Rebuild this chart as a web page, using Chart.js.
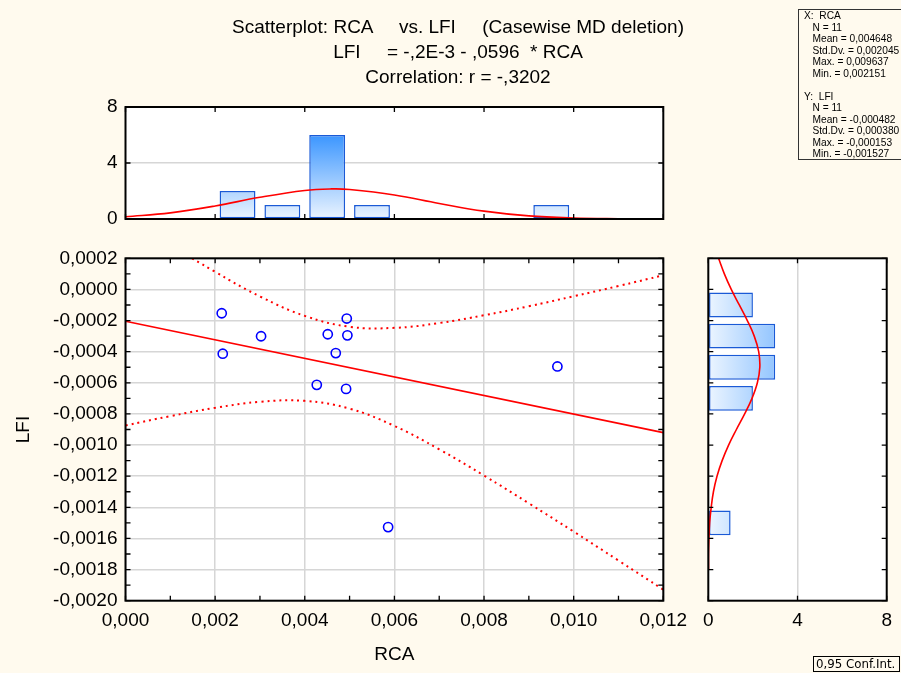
<!DOCTYPE html>
<html>
<head>
<meta charset="utf-8">
<title>Scatterplot: RCA vs. LFI</title>
<script src="https://cdn.jsdelivr.net/npm/chart.js@4.4.1/dist/chart.umd.min.js"></script>
<style>
  html, body { margin: 0; padding: 0; background: #fffaee; }
  #wrap { position: relative; width: 901px; height: 673px; overflow: hidden; background: #fffaee;
          font-family: 'Liberation Sans', Arial, sans-serif; color: #000; }
  #wrap canvas { position: absolute; left: 0; top: 0; }
  .title { position: absolute; left: 158px; top: 14px; width: 600px; text-align: center;
           font-size: 19px; line-height: 25px; white-space: pre; }
  .stats { position: absolute; left: 798px; top: 9px; width: 120px; height: 151px;
           border: 1px solid #333; font-size: 10.2px; line-height: 11.5px; white-space: pre; padding-left: 5px; box-sizing: border-box; }
  .conf { position: absolute; left: 813px; top: 656px; width: 87px; height: 16px; box-sizing: border-box;
          border: 1px solid #000; font-family: 'DejaVu Sans', sans-serif; font-size: 11.8px; line-height: 14px; padding-left: 2px; white-space: pre; }
</style>
</head>
<body>
<div id="wrap">
  <canvas id="histX" width="901" height="673"></canvas>
  <canvas id="scatter" width="901" height="673"></canvas>
  <canvas id="histY" width="901" height="673"></canvas>
  <div class="title">Scatterplot: RCA     vs. LFI     (Casewise MD deletion)
LFI     = -,2E-3 - ,0596  * RCA
Correlation: r = -,3202</div>
  <div class="stats">X:  RCA
   N = 11
   Mean = 0,004648
   Std.Dv. = 0,002045
   Max. = 0,009637
   Min. = 0,002151

Y:  LFI
   N = 11
   Mean = -0,000482
   Std.Dv. = 0,000380
   Max. = -0,000153
   Min. = -0,001527</div>
  <div class="conf">0,95 Conf.Int.</div>
</div>
<script>
// --- dane ---
const rcaValues = [0.002147, 0.00217, 0.003025, 0.004513, 0.004937, 0.004951, 0.004692, 0.004268, 0.004922, 0.009637, 0.00586];
const lfiValues = [-0.000153, -0.000413, -0.000301, -0.000288, -0.000187, -0.000295, -0.000409, -0.000613, -0.000639, -0.000495, -0.001527];

// prosta regresji LFI = -,2E-3 - ,0596 * RCA
const fitX = [0, 0.012];
const fitY = [-0.000205, -0.00092];

// przedział ufności 0,95
const bandX = [0, 0.001, 0.002, 0.003, 0.004, 0.005, 0.006, 0.007, 0.008, 0.009, 0.010, 0.011, 0.012];
const bandUpper = [0.00046, 0.000285, 0.000113, -0.000045, -0.00017, -0.00024, -0.000247, -0.000216, -0.000166, -0.000108, -0.000044, 0.000022, 0.000091];
const bandLower = [-0.000874, -0.000814, -0.000761, -0.000722, -0.000716, -0.000766, -0.000877, -0.001027, -0.001196, -0.001374, -0.001556, -0.001742, -0.001929];

// histogram RCA (górny)
const rcaBins = [0.0025, 0.0035, 0.0045, 0.0055, 0.0095];
const rcaCounts = [2, 1, 6, 1, 1];
const rcaCurveX = [0, 0.001, 0.002, 0.003, 0.004, 0.0046, 0.005, 0.006, 0.007, 0.008, 0.009, 0.010, 0.011, 0.012];
const rcaCurveY = [0.16, 0.44, 0.93, 1.55, 2.04, 2.15, 2.11, 1.72, 1.11, 0.56, 0.22, 0.07, 0.02, 0.0];

// histogram LFI (prawy)
const lfiBins = [-0.0001, -0.0003, -0.0005, -0.0007, -0.0015];
const lfiCounts = [2, 3, 3, 2, 1];
const lfiCurveY = [0.0002, 0.0001, 0, -0.0001, -0.0002, -0.0003, -0.0004, -0.0005, -0.0006, -0.0007, -0.0008,
                   -0.0009, -0.0010, -0.0011, -0.0012, -0.0013, -0.0014, -0.0015, -0.0016, -0.0017, -0.0018];
const lfiCurveX = [0.46, 0.72, 1.03, 1.39, 1.75, 2.06, 2.26, 2.31, 2.20, 1.96, 1.63,
                   1.26, 0.91, 0.62, 0.39, 0.23, 0.13, 0.06, 0.03, 0.01, 0.01];

// --- wspólne ustawienia ---
Chart.defaults.font.family = "'Liberation Sans', Arial, sans-serif";
Chart.defaults.font.size = 19;
Chart.defaults.color = '#000';

const fmt = (v, d) => {
  if (Math.abs(v) < 1e-12) v = 0;
  return v.toFixed(d).replace('.', ',');
};
const GRID = '#d6d6d6';
const RED = '#ff0000';
const BAR_EDGE = '#1a5ad6';

// ramka wykresu + krótkie kreski skali do środka
const framePlugin = {
  id: 'frame',
  afterDraw(chart, args, opts) {
    const { ctx, chartArea: a, scales } = chart;
    const xs = scales.x, ys = scales.y;
    const len = 5;
    ctx.save();
    ctx.strokeStyle = '#000';
    ctx.lineWidth = 1.3;
    ctx.beginPath();
    const nx = Math.round((xs.max - xs.min) / opts.xStep);
    for (let i = 0; i <= nx; i++) {
      const px = xs.getPixelForValue(xs.min + i * opts.xStep);
      ctx.moveTo(px, a.top); ctx.lineTo(px, a.top + len);
      ctx.moveTo(px, a.bottom); ctx.lineTo(px, a.bottom - len);
    }
    const ny = Math.round((ys.max - ys.min) / opts.yStep);
    for (let i = 0; i <= ny; i++) {
      const py = ys.getPixelForValue(ys.min + i * opts.yStep);
      ctx.moveTo(a.left, py); ctx.lineTo(a.left + len, py);
      ctx.moveTo(a.right, py); ctx.lineTo(a.right - len, py);
    }
    ctx.stroke();
    ctx.lineWidth = 2;
    ctx.strokeRect(a.left, a.top, a.right - a.left, a.bottom - a.top);
    ctx.restore();
  }
};

// białe tło obszaru wykresu
const plotBg = {
  id: 'plotBg',
  beforeDraw(chart) {
    const { ctx, chartArea: a } = chart;
    ctx.save();
    ctx.fillStyle = '#ffffff';
    ctx.fillRect(a.left, a.top, a.right - a.left, a.bottom - a.top);
    ctx.restore();
  }
};

const baseOpts = {
  responsive: false,
  animation: false,
  devicePixelRatio: 1,
  events: [],
  plugins: { legend: { display: false }, tooltip: { enabled: false } }
};

// --- wykres rozrzutu ---
new Chart(document.getElementById('scatter'), {
  type: 'scatter',
  data: {
    datasets: [
      {
        data: rcaValues.map((x, i) => ({ x, y: lfiValues[i] })),
        pointRadius: 4.6,
        pointBorderWidth: 1.6,
        pointBorderColor: '#0000ff',
        pointBackgroundColor: 'rgba(0,0,0,0)'
      },
      {
        data: fitX.map((x, i) => ({ x, y: fitY[i] })),
        showLine: true, pointRadius: 0, borderColor: RED, borderWidth: 1.6
      },
      {
        data: bandX.map((x, i) => ({ x, y: bandUpper[i] })),
        showLine: true, pointRadius: 0, borderColor: RED, borderWidth: 2, borderDash: [2, 4], tension: 0.4
      },
      {
        data: bandX.map((x, i) => ({ x, y: bandLower[i] })),
        showLine: true, pointRadius: 0, borderColor: RED, borderWidth: 2, borderDash: [2, 4], tension: 0.4
      }
    ]
  },
  options: {
    ...baseOpts,
    layout: { padding: { left: 0, top: 258.3, right: 237.7, bottom: 0 } },
    scales: {
      x: {
        type: 'linear', min: 0, max: 0.012,
        ticks: { stepSize: 0.002, padding: 9, autoSkip: false, maxRotation: 0, callback: v => fmt(v, 3) },
        grid: { color: GRID, lineWidth: 1.5, drawTicks: false },
        border: { display: false },
        title: { display: true, text: 'RCA', padding: { top: 0, bottom: 6.6 } },
        afterFit: s => { s.height = 72.3; }
      },
      y: {
        type: 'linear', min: -0.002, max: 0.0002,
        ticks: { stepSize: 0.0002, padding: 8, autoSkip: false, callback: v => fmt(v, 4) },
        grid: { color: GRID, lineWidth: 1.5, drawTicks: false },
        border: { display: false },
        title: { display: true, text: 'LFI', padding: { top: 12, bottom: 0 } },
        afterFit: s => { s.width = 125.5; }
      }
    },
    plugins: { ...baseOpts.plugins, frame: { xStep: 0.001, yStep: 0.0001 } }
  },
  plugins: [plotBg, framePlugin]
});

// --- histogram RCA (u góry) ---
new Chart(document.getElementById('histX'), {
  type: 'bar',
  data: {
    datasets: [
      {
        type: 'line',
        data: rcaCurveX.map((x, i) => ({ x, y: rcaCurveY[i] })),
        pointRadius: 0, borderColor: RED, borderWidth: 1.6, tension: 0.4
      },
      {
        data: rcaBins.map((x, i) => ({ x, y: rcaCounts[i] })),
        categoryPercentage: 1, barPercentage: 0.8,
        borderColor: BAR_EDGE, borderWidth: 1.5, borderSkipped: false,
        backgroundColor: c => {
          const ch = c.chart;
          if (!ch.chartArea) return '#cfe6fc';
          const y = ch.scales.y;
          const g = ch.ctx.createLinearGradient(0, y.getPixelForValue(0), 0, y.getPixelForValue(8));
          g.addColorStop(0, 'rgb(236,245,255)');
          g.addColorStop(1, 'rgb(0,118,255)');
          return g;
        }
      }
    ]
  },
  options: {
    ...baseOpts,
    layout: { padding: { left: 0, top: 107, right: 237.7, bottom: 454 } },
    scales: {
      x: { type: 'linear', display: false, min: 0, max: 0.012, offset: false, grid: { offset: false }, ticks: { stepSize: 0.002 } },
      y: {
        type: 'linear', min: 0, max: 8,
        ticks: { stepSize: 4, padding: 8 },
        grid: { color: c => (c.tick && c.tick.value === 4 ? GRID : 'rgba(0,0,0,0)'), lineWidth: 1.5, drawTicks: false },
        border: { display: false },
        afterFit: s => { s.width = 125.5; }
      }
    },
    plugins: { ...baseOpts.plugins, frame: { xStep: 0.002, yStep: 4 } }
  },
  plugins: [plotBg, framePlugin]
});

// --- histogram LFI (po prawej) ---
new Chart(document.getElementById('histY'), {
  type: 'bar',
  data: {
    datasets: [
      {
        type: 'line', indexAxis: 'y',
        data: lfiCurveY.map((y, i) => ({ x: lfiCurveX[i], y })),
        pointRadius: 0, borderColor: RED, borderWidth: 1.6, tension: 0.4
      },
      {
        data: lfiBins.map((y, i) => ({ x: lfiCounts[i], y })),
        categoryPercentage: 1, barPercentage: 0.8,
        borderColor: BAR_EDGE, borderWidth: 1.5, borderSkipped: false,
        backgroundColor: c => {
          const ch = c.chart;
          if (!ch.chartArea) return '#cfe6fc';
          const x = ch.scales.x;
          const g = ch.ctx.createLinearGradient(x.getPixelForValue(0), 0, x.getPixelForValue(8), 0);
          g.addColorStop(0, 'rgb(236,245,255)');
          g.addColorStop(1, 'rgb(0,118,255)');
          return g;
        }
      }
    ]
  },
  options: {
    ...baseOpts,
    indexAxis: 'y',
    layout: { padding: { left: 708.3, top: 258.3, right: 13.7, bottom: 0 } },
    scales: {
      y: { type: 'linear', display: false, min: -0.002, max: 0.0002, offset: false, grid: { offset: false }, ticks: { stepSize: 0.0002 } },
      x: {
        type: 'linear', min: 0, max: 8,
        ticks: { stepSize: 4, padding: 9 },
        grid: { color: c => (c.tick && c.tick.value === 4 ? GRID : 'rgba(0,0,0,0)'), lineWidth: 1.5, drawTicks: false },
        border: { display: false },
        afterFit: s => { s.height = 72.3; }
      }
    },
    plugins: { ...baseOpts.plugins, frame: { xStep: 4, yStep: 0.0002 } }
  },
  plugins: [plotBg, framePlugin]
});
</script>
</body>
</html>
